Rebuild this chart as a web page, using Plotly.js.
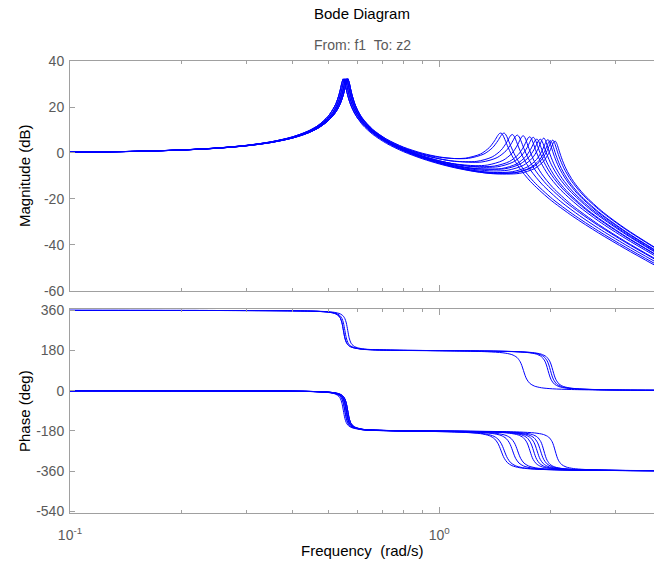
<!DOCTYPE html>
<html>
<head>
<meta charset="utf-8">
<script src="https://cdn.plot.ly/plotly-3.0.1.min.js"></script>
<style>
  html, body { margin: 0; padding: 0; background: #ffffff; }
  #chart { width: 654px; height: 567px; }
</style>
</head>
<body>
<div id="chart"></div>
<script>
// ---------------- data ----------------
// shared low-frequency grid (rad/s) around the first resonance
const freqLow = [0.1, 0.15, 0.2, 0.25, 0.3, 0.35, 0.4, 0.44, 0.47, 0.5, 0.515, 0.525, 0.535, 0.54, 0.545, 0.55, 0.555, 0.56, 0.565, 0.57, 0.575, 0.58, 0.59, 0.6];

// magnitude (dB) of the four first-mode variants on freqLow
const magLowV1 = [0.32, 0.73, 1.34, 2.18, 3.31, 4.84, 6.98, 9.41, 11.99, 15.91, 18.93, 21.45, 25.26, 27.81, 30.65, 32.22, 30.56, 27.65, 25.07, 22.95, 21.19, 19.69, 17.27, 15.34];
const magLowV2 = [0.31, 0.72, 1.32, 2.14, 3.25, 4.74, 6.81, 9.14, 11.58, 15.20, 17.74, 20.08, 23.25, 25.34, 27.88, 30.69, 32.24, 30.59, 27.73, 25.16, 23.04, 21.27, 18.50, 16.35];
const magLowV3 = [0.31, 0.71, 1.29, 2.10, 3.18, 4.64, 6.64, 8.88, 11.20, 14.56, 16.86, 18.92, 21.62, 23.34, 25.42, 27.94, 30.73, 32.25, 30.63, 27.80, 25.24, 23.12, 19.88, 17.45];
const magLowV4 = [0.30, 0.69, 1.27, 2.06, 3.12, 4.54, 6.48, 8.64, 10.84, 13.98, 16.17, 17.92, 20.25, 21.71, 23.42, 25.49, 28.00, 30.77, 32.27, 30.67, 27.86, 25.31, 21.46, 18.68];

// phase (deg) of the four first-mode variants on freqLow
const phaseLowV1 = [-0.29, -0.46, -0.65, -0.89, -1.20, -1.65, -2.39, -3.43, -4.89, -8.05, -11.59, -16.18, -26.02, -36.35, -55.92, -90, -123.83, -143.16, -153.36, -159.30, -163.11, -165.75, -169.12, -171.19];
const phaseLowV2 = [-0.29, -0.45, -0.64, -0.87, -1.18, -1.62, -2.32, -3.30, -4.62, -7.36, -10.22, -13.65, -20.19, -26.22, -36.59, -56.16, -90, -123.6, -142.91, -153.15, -159.13, -162.97, -167.56, -170.18];
const phaseLowV3 = [-0.29, -0.45, -0.63, -0.86, -1.16, -1.59, -2.26, -3.17, -4.38, -6.78, -9.14, -11.81, -16.47, -20.36, -26.43, -36.84, -56.40, -90, -123.37, -142.67, -152.95, -158.96, -165.50, -168.94];
const phaseLowV4 = [-0.28, -0.44, -0.63, -0.85, -1.14, -1.55, -2.20, -3.06, -4.17, -6.29, -8.28, -10.41, -13.89, -16.61, -20.53, -26.64, -37.09, -56.64, -90, -123.14, -142.42, -152.74, -162.69, -167.35];

// per-sample high-frequency part (second resonance), frequency / magnitude / phase
const hiFreq1 = [0.62, 0.66, 0.72, 0.8, 0.9, 1.0, 1.1, 1.176, 1.2936, 1.3671, 1.4112, 1.4406, 1.4553, 1.47, 1.4847, 1.4994, 1.5288, 1.5729, 1.6464, 1.764, 1.9845, 2.3, 2.7, 3.2, 3.85];
const hiMag1 = [12.99, 9.09, 5.31, 2.10, -0.41, -1.86, -2.41, -2.26, -0.43, 2.42, 5.30, 7.63, 8.49, 8.67, 7.93, 6.52, 3.21, -1.12, -6.42, -12.34, -19.94, -27.56, -34.78, -41.78, -48.98];
const hiPhase1 = [-175.34, -177.72, -179.37, -180.64, -181.85, -183.13, -184.80, -186.79, -192.37, -201.64, -215.50, -235.24, -250.68, -269.2, -287.55, -302.63, -321.8, -335.5, -344.6, -350.11, -353.78, -355.79, -356.94, -357.7, -358.16];

const hiFreq2 = [0.62, 0.66, 0.72, 0.8, 0.9, 1.0, 1.1, 1.2, 1.32, 1.395, 1.44, 1.47, 1.485, 1.5, 1.515, 1.53, 1.56, 1.605, 1.68, 1.8, 2.025, 2.3, 2.7, 3.2, 3.85];
const hiMag2 = [14.48, 10.07, 5.97, 2.56, -0.11, -1.69, -2.42, -2.31, -0.47, 2.37, 5.26, 7.59, 8.45, 8.63, 7.89, 6.48, 3.17, -1.16, -6.46, -12.38, -19.98, -26.62, -33.96, -41.02, -48.25];
const hiPhase2 = [-174.17, -177.2, -179.1, -180.54, -181.71, -182.9, -184.41, -186.79, -192.37, -201.64, -215.50, -235.24, -250.68, -269.2, -287.55, -302.63, -321.8, -335.5, -344.6, -350.11, -353.78, -355.6, -356.84, -357.64, -358.12];

const hiFreq3 = [0.62, 0.66, 0.72, 0.8, 0.9, 1.0, 1.1, 1.264, 1.3904, 1.4694, 1.5168, 1.5484, 1.5642, 1.58, 1.5958, 1.6116, 1.6432, 1.6906, 1.7696, 1.896, 2.133, 2.4, 2.7, 3.2, 3.85];
const hiMag3 = [13.50, 9.33, 5.33, 1.92, -0.83, -2.58, -3.57, -3.63, -1.72, 1.21, 4.22, 6.76, 7.77, 8.01, 7.20, 5.68, 2.18, -2.27, -7.61, -13.53, -21.12, -27.29, -32.78, -40.0, -47.33];
const hiPhase3 = [-174.55, -177.19, -178.9, -180.16, -181.19, -182.16, -183.3, -186.29, -191.52, -200.28, -213.84, -233.59, -249.65, -269.4, -288.96, -304.67, -323.88, -336.93, -345.55, -350.72, -354.35, -355.78, -356.75, -357.61, -358.12];

const hiFreq4 = [0.62, 0.66, 0.72, 0.8, 0.9, 1.0, 1.1, 1.304, 1.4344, 1.5159, 1.5648, 1.5974, 1.6137, 1.63, 1.6463, 1.6626, 1.6952, 1.7441, 1.8256, 1.956, 2.2005, 2.4, 2.7, 3.2, 3.85];
const hiMag4 = [15.07, 10.32, 5.99, 2.35, -0.58, -2.48, -3.63, -3.91, -1.99, 0.94, 3.96, 6.50, 7.50, 7.75, 6.94, 5.42, 1.92, -2.53, -7.87, -13.79, -21.37, -25.98, -31.61, -38.96, -46.36];
const hiPhase4 = [-173.17, -176.61, -178.6, -180.05, -181.04, -181.93, -182.94, -186.29, -191.52, -200.28, -213.84, -233.59, -249.65, -269.4, -288.96, -304.67, -323.88, -336.93, -345.55, -350.72, -354.35, -355.46, -356.55, -357.5, -358.05];

const hiFreq5 = [0.62, 0.66, 0.72, 0.8, 0.9, 1.0, 1.1, 1.25, 1.352, 1.4872, 1.5717, 1.6224, 1.6562, 1.6731, 1.69, 1.7069, 1.7238, 1.7576, 1.8083, 1.8928, 2.028, 2.2815, 2.7, 3.2, 3.85];
const hiMag5 = [12.55, 8.57, 4.67, 1.25, -1.59, -3.52, -4.75, -5.51, -5.23, -3.23, -0.21, 3.00, 5.87, 7.13, 7.49, 6.58, 4.82, 1.00, -3.61, -9.02, -14.95, -22.52, -31.09, -38.58, -46.06];
const hiPhase5 = [-174.79, -177.11, -178.65, -179.73, -180.62, -181.39, -182.2, -183.83, -185.64, -190.34, -198.3, -210.78, -230.35, -247.4, -269.3, -291.1, -307.78, -326.89, -339.13, -346.99, -351.63, -354.71, -356.65, -357.6, -358.14];

const hiFreq6 = [0.62, 0.66, 0.72, 0.8, 0.9, 1.0, 1.1, 1.25, 1.408, 1.5488, 1.6368, 1.6896, 1.7248, 1.7424, 1.76, 1.7776, 1.7952, 1.8304, 1.8832, 1.9712, 2.112, 2.376, 2.7, 3.2, 3.85];
const hiMag6 = [14.00, 9.52, 5.29, 1.66, -1.36, -3.41, -4.82, -5.90, -5.70, -3.69, -0.65, 2.56, 5.44, 6.69, 7.05, 6.14, 4.38, 0.57, -4.04, -9.45, -15.38, -22.94, -29.58, -37.27, -44.87];
const hiPhase6 = [-173.61, -176.57, -178.37, -179.62, -180.47, -181.18, -181.91, -183.26, -185.64, -190.34, -198.3, -210.78, -230.35, -247.4, -269.3, -291.1, -307.78, -326.89, -339.13, -346.99, -351.63, -354.71, -356.36, -357.44, -358.05];

const hiFreq7 = [0.62, 0.66, 0.72, 0.8, 0.9, 1.0, 1.1, 1.25, 1.44, 1.584, 1.674, 1.728, 1.764, 1.782, 1.8, 1.818, 1.836, 1.872, 1.926, 2.016, 2.16, 2.43, 2.7, 3.2, 3.85];
const hiMag7 = [14.81, 10.01, 5.61, 1.87, -1.24, -3.37, -4.85, -6.09, -5.98, -3.96, -0.92, 2.29, 5.17, 6.43, 6.79, 5.88, 4.12, 0.31, -4.30, -9.71, -15.63, -23.19, -28.72, -36.54, -44.21];
const hiPhase7 = [-172.86, -176.27, -178.2, -179.57, -180.4, -181.08, -181.76, -183.0, -185.64, -190.34, -198.3, -210.78, -230.35, -247.4, -269.3, -291.1, -307.78, -326.89, -339.13, -346.99, -351.63, -354.71, -356.17, -357.34, -357.99];

const hiFreq8 = [0.62, 0.66, 0.72, 0.8, 0.9, 1.0, 1.1, 1.25, 1.472, 1.6192, 1.7112, 1.7664, 1.8032, 1.8216, 1.84, 1.8584, 1.8768, 1.9136, 1.9688, 2.0608, 2.208, 2.484, 2.7, 3.2, 3.85];
const hiMag8 = [13.10, 8.86, 4.75, 1.17, -1.86, -3.99, -5.49, -6.82, -6.79, -4.75, -1.70, 1.52, 4.40, 5.66, 6.03, 5.12, 3.36, -0.45, -5.06, -10.46, -16.37, -23.92, -28.35, -36.30, -44.03];
const hiPhase8 = [-174.15, -176.75, -178.38, -179.52, -180.33, -180.99, -181.63, -182.77, -185.64, -190.34, -198.3, -210.78, -230.35, -247.4, -269.3, -291.1, -307.78, -326.89, -339.13, -346.99, -351.63, -354.71, -355.96, -357.24, -357.93];

const hiFreq9 = [0.62, 0.66, 0.72, 0.8, 0.9, 1.0, 1.1, 1.25, 1.504, 1.6544, 1.7484, 1.8048, 1.8424, 1.8612, 1.88, 1.8988, 1.9176, 1.9552, 2.0116, 2.1056, 2.256, 2.538, 2.7, 3.2, 3.85];
const hiMag9 = [14.71, 9.90, 5.48, 1.69, -1.48, -3.69, -5.27, -6.74, -6.87, -4.82, -1.77, 1.45, 4.33, 5.59, 5.96, 5.05, 3.29, -0.52, -5.13, -10.52, -16.44, -23.99, -27.31, -35.41, -43.24];
const hiPhase9 = [-172.8, -176.21, -178.13, -179.47, -180.27, -180.9, -181.52, -182.57, -185.64, -190.34, -198.3, -210.78, -230.35, -247.4, -269.3, -291.1, -307.78, -326.89, -339.13, -346.99, -351.63, -354.71, -355.73, -357.13, -357.86];

const hiFreq10 = [0.62, 0.66, 0.72, 0.8, 0.9, 1.0, 1.1, 1.25, 1.4, 1.536, 1.6896, 1.7856, 1.8432, 1.8816, 1.9008, 1.92, 1.9392, 1.9584, 1.9968, 2.0544, 2.1504, 2.304, 2.592, 3.2, 3.85];
const hiMag10 = [13.81, 9.29, 5.02, 1.31, -1.84, -4.05, -5.66, -7.21, -7.81, -7.46, -5.36, -2.23, 1.16, 4.40, 5.96, 6.50, 5.42, 3.37, -0.79, -5.57, -11.03, -16.97, -24.53, -35.01, -42.91];
const hiPhase10 = [-173.37, -176.3, -178.06, -179.25, -180.0, -180.58, -181.12, -182.01, -183.22, -184.98, -189.14, -196.25, -207.72, -226.84, -244.85, -269.4, -293.74, -311.4, -330.12, -341.4, -348.44, -352.56, -355.37, -357.34, -358.03];

const hiFreq11 = [0.62, 0.66, 0.72, 0.8, 0.9, 1.0, 1.1, 1.25, 1.4, 1.576, 1.7336, 1.8321, 1.8912, 1.9306, 1.9503, 1.97, 1.9897, 2.0094, 2.0488, 2.1079, 2.2064, 2.364, 2.6595, 3.2, 3.85];
const hiMag11 = [12.96, 8.69, 4.56, 0.91, -2.21, -4.44, -6.08, -7.73, -8.48, -8.15, -6.04, -2.90, 0.49, 3.74, 5.30, 5.84, 4.76, 2.72, -1.45, -6.22, -11.68, -17.61, -25.16, -34.46, -42.46];
const hiPhase11 = [-173.94, -176.52, -178.12, -179.21, -179.95, -180.5, -181.01, -181.84, -182.91, -184.98, -189.14, -196.25, -207.72, -226.84, -244.85, -269.4, -293.74, -311.4, -330.12, -341.4, -348.44, -352.56, -355.37, -357.2, -357.95];

const hiFreq12 = [0.62, 0.66, 0.72, 0.8, 0.9, 1.0, 1.1, 1.25, 1.4, 1.6, 1.76, 1.86, 1.92, 1.96, 1.98, 2.0, 2.02, 2.04, 2.08, 2.14, 2.24, 2.4, 2.7, 3.2, 3.85];
const hiMag12 = [12.17, 8.13, 4.14, 0.56, -2.52, -4.76, -6.41, -8.09, -8.92, -8.63, -6.50, -3.36, 0.04, 3.29, 4.85, 5.39, 4.31, 2.26, -1.90, -6.67, -12.13, -18.06, -25.60, -34.19, -42.27];
const hiPhase12 = [-174.44, -176.72, -178.2, -179.18, -179.91, -180.46, -180.96, -181.74, -182.76, -184.98, -189.14, -196.25, -207.72, -226.84, -244.85, -269.4, -293.74, -311.4, -330.12, -341.4, -348.44, -352.56, -355.37, -357.12, -357.91];

const hiFreq13 = [0.62, 0.66, 0.72, 0.8, 0.9, 1.0, 1.1, 1.25, 1.4, 1.648, 1.8128, 1.9158, 1.9776, 2.0188, 2.0394, 2.06, 2.0806, 2.1012, 2.1424, 2.2042, 2.3072, 2.472, 2.781, 3.2, 3.85];
const hiMag13 = [13.68, 9.14, 4.83, 1.07, -2.15, -4.47, -6.20, -8.01, -9.02, -8.86, -6.73, -3.58, -0.18, 3.07, 4.63, 5.17, 4.09, 2.05, -2.11, -6.88, -12.34, -18.27, -25.81, -33.01, -41.24];
const hiPhase13 = [-173.29, -176.22, -177.96, -179.13, -179.85, -180.38, -180.85, -181.58, -182.48, -184.98, -189.14, -196.25, -207.72, -226.84, -244.85, -269.4, -293.74, -311.4, -330.12, -341.4, -348.44, -352.56, -355.37, -356.93, -357.81];

const hiFreq14 = [0.62, 0.66, 0.72, 0.8, 0.9, 1.0, 1.1, 1.25, 1.4, 1.624, 1.7864, 1.8879, 1.9488, 1.9894, 2.0097, 2.03, 2.0503, 2.0706, 2.1112, 2.1721, 2.2736, 2.436, 2.7405, 3.2, 3.85];
const hiMag14 = [14.56, 9.73, 5.27, 1.43, -1.84, -4.17, -5.89, -7.67, -8.61, -8.39, -6.27, -3.13, 0.26, 3.51, 5.07, 5.61, 4.54, 2.49, -1.67, -6.45, -11.90, -17.83, -25.38, -33.28, -41.44];
const hiPhase14 = [-172.59, -175.98, -177.86, -179.16, -179.88, -180.42, -180.9, -181.66, -182.61, -184.98, -189.14, -196.25, -207.72, -226.84, -244.85, -269.4, -293.74, -311.4, -330.12, -341.4, -348.44, -352.56, -355.37, -357.03, -357.86];

// which first-mode variant each sample uses, and its phase wrap (deg)
const sampleVariant = ['V1', 'V3', 'V2', 'V4', 'V1', 'V3', 'V4', 'V2', 'V4', 'V3', 'V2', 'V1', 'V3', 'V4'];
const samplePhaseWrap = [0, 0, 0, 0, 360, 0, 0, 0, 0, 0, 360, 360, 0, 360];

// axis ticks
const magTicks = [-60, -40, -20, 0, 20, 40];
const magTickText = ['-60', '-40', '-20', '0', '20', '40'];
const phaseTicks = [-540, -360, -180, 0, 180, 360];
const phaseTickText = ['-540', '-360', '-180', '0', '180', '360'];
const freqMajorTicks = [0.1, 1];
const freqMajorText = ['10<sup>-1</sup>', '10<sup>0</sup>'];
const freqMinorTicks = [0.2, 0.3, 0.4, 0.5, 0.6, 0.7, 0.8, 0.9, 2, 3];

// ---------------- build the figure ----------------
const magLow = { V1: magLowV1, V2: magLowV2, V3: magLowV3, V4: magLowV4 };
const phaseLow = { V1: phaseLowV1, V2: phaseLowV2, V3: phaseLowV3, V4: phaseLowV4 };
const hiFreq = [hiFreq1, hiFreq2, hiFreq3, hiFreq4, hiFreq5, hiFreq6, hiFreq7, hiFreq8, hiFreq9, hiFreq10, hiFreq11, hiFreq12, hiFreq13, hiFreq14];
const hiMag = [hiMag1, hiMag2, hiMag3, hiMag4, hiMag5, hiMag6, hiMag7, hiMag8, hiMag9, hiMag10, hiMag11, hiMag12, hiMag13, hiMag14];
const hiPhase = [hiPhase1, hiPhase2, hiPhase3, hiPhase4, hiPhase5, hiPhase6, hiPhase7, hiPhase8, hiPhase9, hiPhase10, hiPhase11, hiPhase12, hiPhase13, hiPhase14];

const lineStyle = { color: '#0000ff', width: 1, shape: 'spline', smoothing: 0.8 };
const traces = [];
for (let i = 0; i < sampleVariant.length; i++) {
  const v = sampleVariant[i];
  const f = freqLow.concat(hiFreq[i]);
  traces.push({
    type: 'scatter', mode: 'lines', x: f,
    y: magLow[v].concat(hiMag[i]),
    xaxis: 'x', yaxis: 'y', line: lineStyle, hoverinfo: 'skip', showlegend: false
  });
  traces.push({
    type: 'scatter', mode: 'lines', x: f,
    y: phaseLow[v].concat(hiPhase[i]).map(p => p + samplePhaseWrap[i]),
    xaxis: 'x2', yaxis: 'y2', line: lineStyle, hoverinfo: 'skip', showlegend: false
  });
}

const axisGray = '#a0a0a0';
const fontFamily = 'Liberation Sans, Arial, sans-serif';
const tickFont = { family: fontFamily, size: 14, color: '#5a5a5a' };
const xRange = [-1, 0.5814];

function xAxis(anchor, labels) {
  return {
    type: 'log', range: xRange, anchor: anchor,
    showline: true, linecolor: axisGray, linewidth: 1, mirror: 'ticks',
    ticks: 'inside', ticklen: 6, tickcolor: axisGray, tickwidth: 1,
    tickmode: 'array', tickvals: freqMajorTicks, ticktext: freqMajorText,
    showticklabels: labels, tickfont: tickFont, ticklabelstandoff: 9,
    minor: { tickmode: 'array', tickvals: freqMinorTicks, ticks: 'inside', ticklen: 3, tickcolor: axisGray, showgrid: false },
    showgrid: false, zeroline: false
  };
}

function yAxis(domain, range, anchor, vals, text) {
  return {
    domain: domain, range: range, anchor: anchor,
    showline: true, linecolor: axisGray, linewidth: 1,
    ticks: 'inside', ticklen: 5, tickcolor: axisGray,
    tickmode: 'array', tickvals: vals, ticktext: text,
    tickfont: tickFont, ticklabelstandoff: 2, showgrid: false, zeroline: false
  };
}

const layout = {
  width: 654, height: 567,
  margin: { l: 70, r: 0, t: 61, b: 54, pad: 0 },
  paper_bgcolor: '#ffffff', plot_bgcolor: '#ffffff',
  showlegend: false,
  xaxis: xAxis('y', false),
  xaxis2: xAxis('y2', true),
  yaxis: yAxis([0.4912, 1], [-60, 40], 'x', magTicks, magTickText),
  yaxis2: yAxis([0, 0.4513], [-547.6, 365.8], 'x2', phaseTicks, phaseTickText),
  annotations: [
    { text: 'Bode Diagram', xref: 'paper', yref: 'paper', x: 0.5, y: 1.106, xanchor: 'center', yanchor: 'middle', showarrow: false,
      font: { family: fontFamily, size: 15, color: '#000000' } },
    { text: 'From: f1  To: z2', xref: 'paper', yref: 'paper', x: 0.5, y: 1.035, xanchor: 'center', yanchor: 'middle', showarrow: false,
      font: { family: fontFamily, size: 14, color: '#5a5a5a' } },
    { text: 'Magnitude (dB)', xref: 'paper', yref: 'paper', x: -0.077, y: 0.7456, xanchor: 'center', yanchor: 'middle', textangle: -90, showarrow: false,
      font: { family: fontFamily, size: 15, color: '#000000' } },
    { text: 'Phase (deg)', xref: 'paper', yref: 'paper', x: -0.077, y: 0.2257, xanchor: 'center', yanchor: 'middle', textangle: -90, showarrow: false,
      font: { family: fontFamily, size: 15, color: '#000000' } },
    { text: 'Frequency  (rad/s)', xref: 'paper', yref: 'paper', x: 0.5, y: -0.084, xanchor: 'center', yanchor: 'middle', showarrow: false,
      font: { family: fontFamily, size: 15, color: '#000000' } }
  ]
};

Plotly.newPlot('chart', traces, layout, { staticPlot: true, displayModeBar: false });
</script>
</body>
</html>
